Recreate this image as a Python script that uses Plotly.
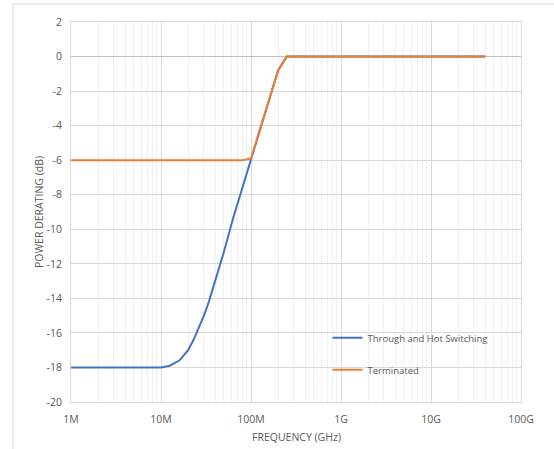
import plotly.graph_objects as go

# Data (frequency in Hz, derating in dB)
through_freq = [1e6, 2e6, 5e6, 10e6, 12.5e6, 16e6, 20e6, 23e6, 26e6, 30e6, 34e6, 40e6, 45e6,
                50e6, 58e6, 65e6, 75e6, 87e6, 100e6, 200e6, 250e6, 1e9, 10e9, 40e9]
through_db = [-18, -18, -18, -18, -17.9, -17.6, -17.0, -16.4, -15.75, -15.0, -14.2, -13.05, -12.1,
              -11.3, -10.0, -9.15, -8.1, -7.0, -6.0, -0.8, 0, 0, 0, 0]

term_freq = [1e6, 2e6, 5e6, 10e6, 20e6, 50e6, 80e6, 100e6, 200e6, 250e6, 1e9, 10e9, 40e9]
term_db = [-6, -6, -6, -6, -6, -6, -6, -5.9, -0.8, 0, 0, 0, 0]

x_tickvals = [1e6, 1e7, 1e8, 1e9, 1e10, 1e11]
x_ticktext = ["1M", "10M", "100M", "1G", "10G", "100G"]

y_tickvals = [2, 0, -2, -4, -6, -8, -10, -12, -14, -16, -18, -20]
y_ticktext = ["2", "0", "-2", "-4", "-6", "-8", "-10", "-12", "-14", "-16", "-18", "-20"]

minor_vals = [k * 10 ** n for n in range(6, 11) for k in range(2, 10)]

FONT = "Open Sans"
GRAY = "#595959"

fig = go.Figure()
fig.add_trace(go.Scatter(x=through_freq, y=through_db, mode="lines",
                         name="Through and Hot Switching", legendgroup="a",
                         line=dict(color="#4472C4", width=2)))
fig.add_trace(go.Scatter(x=term_freq, y=term_db, mode="lines",
                         name="Terminated", legendgroup="b",
                         line=dict(color="#ED7D31", width=2)))

fig.update_layout(
    width=554, height=449,
    margin=dict(l=71, r=33, t=22, b=47),
    paper_bgcolor="white", plot_bgcolor="white",
    font=dict(family=FONT, size=10, color=GRAY),
    showlegend=True,
    legend=dict(x=0.57, y=0.207, xanchor="left", yanchor="top",
                bgcolor="rgba(0,0,0,0)", traceorder="grouped", tracegroupgap=13,
                font=dict(size=9.5, color=GRAY)),
    shapes=[dict(type="rect", xref="paper", yref="paper",
                 x0=-0.129, x1=1.3, y0=-0.3, y1=1.047,
                 line=dict(color="#d9d9d9", width=1), fillcolor="rgba(0,0,0,0)",
                 layer="below")],
    annotations=[dict(text="FREQUENCY (GHz)", xref="paper", yref="paper", x=0.5, y=0,
                      xanchor="center", yanchor="middle", yshift=-35, showarrow=False,
                      font=dict(size=10.5, color=GRAY))],
)

fig.update_xaxes(
    type="log", range=[6, 11], automargin=False,
    tickvals=x_tickvals, ticktext=x_ticktext,
    showgrid=True, gridcolor="#d9d9d9", gridwidth=1,
    minor=dict(tickvals=minor_vals, showgrid=True, gridcolor="#f0f0f0", gridwidth=1, ticks=""),
    showline=True, linecolor="#d9d9d9", mirror=True,
    ticks="", ticklabelstandoff=7, tickfont=dict(size=10.5, color=GRAY),
)
fig.update_yaxes(
    range=[-20, 2],
    tickvals=y_tickvals, ticktext=y_ticktext,
    showgrid=True, gridcolor="#d9d9d9", gridwidth=1,
    zeroline=True, zerolinecolor="#bfbfbf", zerolinewidth=1,
    showline=True, linecolor="#d9d9d9", mirror=True,
    ticks="", ticklabelstandoff=6, tickfont=dict(size=10.5, color=GRAY),
    title=dict(text="POWER DERATING (dB)", font=dict(size=10.5, color=GRAY), standoff=0),
)

fig.write_html("out.html", config={"displayModeBar": False},
               post_script="document.body.style.margin='0';")
